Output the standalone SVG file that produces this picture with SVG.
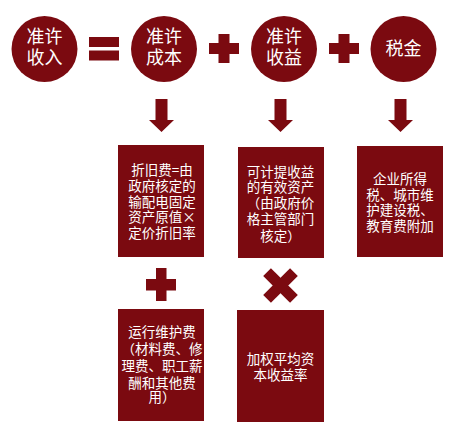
<svg xmlns="http://www.w3.org/2000/svg" width="475" height="432" viewBox="0 0 475 432">
<defs>
<style>
.f{fill:#7B0A10}
.ct{fill:#fff;font-family:"Noto Sans CJK SC","Noto Sans",sans-serif;font-size:18px;text-anchor:middle}
.bt{fill:#fff;font-family:"Noto Sans CJK SC","Noto Sans",sans-serif;font-size:13.5px;text-anchor:middle}
</style>
<path id="arr" d="M-6,0 H6 V21 H12.5 L0,33 L-12.5,21 H-6 Z"/>
</defs>
<rect width="475" height="432" fill="#fff"/>
<g id="n-income"><circle class="f" cx="44.5" cy="49" r="33"/><text class="ct" x="44.5" y="43">准许</text><text class="ct" x="44.5" y="64">收入</text></g>
<g id="op-eq" class="f"><rect x="89" y="37" width="30" height="10"/><rect x="89" y="50.5" width="30" height="10"/></g>
<g id="n-cost"><circle class="f" cx="164" cy="49" r="33"/><text class="ct" x="164" y="43">准许</text><text class="ct" x="164" y="64">成本</text></g>
<g id="op-plus1" class="f"><rect x="218.5" y="34" width="11" height="29"/><rect x="209" y="43" width="30" height="11"/></g>
<g id="n-return"><circle class="f" cx="284" cy="49" r="33"/><text class="ct" x="284" y="43">准许</text><text class="ct" x="284" y="64">收益</text></g>
<g id="op-plus2" class="f"><rect x="338.5" y="34" width="11" height="29"/><rect x="329" y="43" width="30" height="11"/></g>
<g id="n-tax"><circle class="f" cx="403.5" cy="49" r="33"/><text class="ct" x="403.5" y="54.5">税金</text></g>
<g id="connectors" class="f">
<use href="#arr" x="161.5" y="99"/>
<use href="#arr" x="280.5" y="99"/>
<use href="#arr" x="400.5" y="99"/>
</g>
<g id="b-depr"><rect class="f" x="118" y="145" width="86" height="112"/>
<text class="bt" x="162" y="175">折旧费=由</text>
<text class="bt" x="162" y="191">政府核定的</text>
<text class="bt" x="162" y="207">输配电固定</text>
<text class="bt" x="162" y="222">资产原值×</text>
<text class="bt" x="162" y="238">定价折旧率</text></g>
<g id="b-assets"><rect class="f" x="238" y="147" width="86" height="111"/>
<text class="bt" x="280.5" y="177">可计提收益</text>
<text class="bt" x="280.5" y="192">的有效资产</text>
<text class="bt" x="280.5" y="208">（由政府价</text>
<text class="bt" x="280.5" y="224">格主管部门</text>
<text class="bt" x="280.5" y="241">核定）</text></g>
<g id="b-taxes"><rect class="f" x="357" y="146" width="86" height="111"/>
<text class="bt" x="400" y="184">企业所得</text>
<text class="bt" x="400" y="200">税、城市维</text>
<text class="bt" x="400" y="215">护建设税、</text>
<text class="bt" x="400" y="231">教育费附加</text></g>
<g id="op-plus3" class="f"><rect x="156" y="268" width="10.5" height="33"/><rect x="146" y="279" width="30" height="11.5"/></g>
<g id="op-times" class="f" transform="translate(280.5 285.5) rotate(45)"><rect x="-19" y="-5.5" width="38" height="11"/><rect x="-5.5" y="-19" width="11" height="38"/></g>
<g id="b-opex"><rect class="f" x="118" y="309" width="86" height="112"/>
<text class="bt" x="162" y="337">运行维护费</text>
<text class="bt" x="162" y="354">（材料费、修</text>
<text class="bt" x="162" y="371">理费、职工薪</text>
<text class="bt" x="162" y="388">酬和其他费</text>
<text class="bt" x="162" y="402">用）</text></g>
<g id="b-wacc"><rect class="f" x="237" y="310" width="87" height="112"/>
<text class="bt" x="280.5" y="364">加权平均资</text>
<text class="bt" x="280.5" y="380">本收益率</text></g>
</svg>
